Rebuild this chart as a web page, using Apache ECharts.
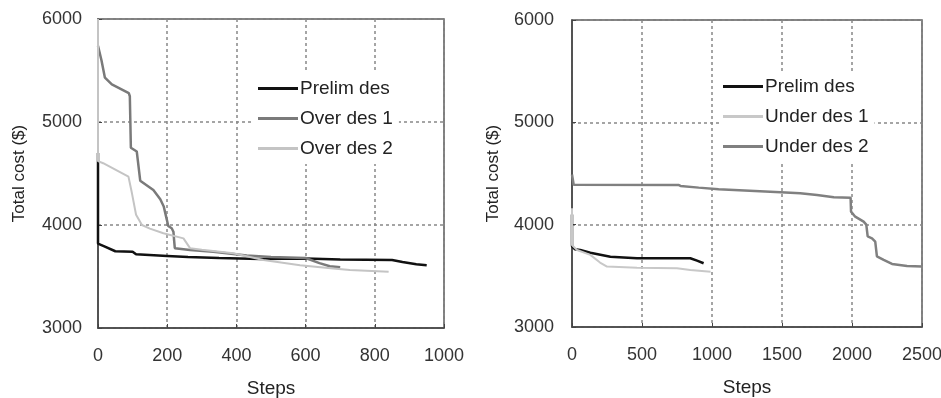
<!DOCTYPE html>
<html>
<head>
<meta charset="utf-8">
<script src="https://cdn.jsdelivr.net/npm/echarts@6/dist/echarts.min.js"></script>
<style>
html,body{margin:0;padding:0;background:#fff;}
#c{width:941px;height:398px;}
</style>
</head>
<body>
<div id="c"></div>
<script>
// ---- Left panel data: [steps, total cost] ----
var leftPrelim = [[0,4700],[0,3900],[0,3820],[20,3790],[50,3745],[100,3740],[110,3715],[200,3700],[260,3690],[350,3680],[470,3670],[600,3675],[700,3665],[850,3660],[880,3640],[920,3620],[950,3610]];
var leftOver1 = [[0,5740],[10,5600],[20,5430],[40,5365],[89,5280],[92,5250],[95,4750],[112,4714],[115,4630],[122,4430],[160,4340],[180,4250],[190,4180],[199,4050],[203,3990],[213,3968],[218,3935],[220,3850],[222,3775],[266,3757],[333,3740],[430,3705],[500,3690],[600,3680],[640,3630],[670,3600],[700,3590]];
var leftOver2 = [[0,6000],[0,4620],[15,4600],[88,4470],[98,4310],[110,4100],[127,4000],[150,3965],[189,3920],[247,3870],[266,3775],[300,3760],[391,3725],[478,3660],[584,3610],[680,3578],[728,3562],[840,3545]];
// ---- Right panel data ----
var rightPrelim = [[0,4100],[0,3790],[20,3760],[59,3753],[131,3726],[274,3687],[464,3672],[845,3672],[893,3648],[940,3623]];
var rightUnder1 = [[0,4160],[0,3800],[36,3753],[131,3705],[200,3630],[250,3590],[464,3580],[750,3573],[845,3557],[990,3540]];
var rightUnder2 = [[0,4490],[12,4390],[760,4388],[775,4378],[905,4362],[1047,4346],[1490,4317],[1630,4307],[1750,4290],[1870,4268],[1990,4264],[1993,4127],[2023,4078],[2083,4030],[2102,4000],[2112,3885],[2143,3867],[2166,3835],[2178,3690],[2226,3655],[2286,3616],[2393,3596],[2500,3590]];

var leftNames = ['Prelim des','Over des 1','Over des 2'];
var rightNames = ['Prelim des','Under des 1','Under des 2'];
var yName = 'Total cost ($)';
var xName = 'Steps';

var FONT = 'Liberation Sans, Arial, sans-serif';
var chart = echarts.init(document.getElementById('c'));
function plain(v){ return String(v); }

function xAx(gi, max, interval){
  return {
    type:'value', gridIndex:gi, min:0, max:max, interval:interval,
    name:xName, nameLocation:'middle', nameGap:51,
    nameTextStyle:{fontFamily:FONT,fontSize:19,color:'#222'},
    axisLine:{show:true,lineStyle:{color:'#444',width:1.5}},
    axisTick:{show:true,inside:true,length:4,lineStyle:{color:'#444'}},
    axisLabel:{fontFamily:FONT,fontSize:18,color:'#333',margin:19,formatter:plain},
    splitLine:{show:true,lineStyle:{color:'#888',type:[3,3],width:1.5}}
  };
}
function yAx(gi, margin){
  return {
    type:'value', gridIndex:gi, min:3000, max:6000, interval:1000,
    name:yName, nameLocation:'middle', nameGap:70, nameRotate:90,
    nameTextStyle:{fontFamily:FONT,fontSize:17,color:'#222'},
    axisLine:{show:true,lineStyle:{color:'#444',width:1.5}},
    axisTick:{show:true,inside:true,length:4,lineStyle:{color:'#444'}},
    axisLabel:{fontFamily:FONT,fontSize:18,color:'#333',margin:margin,formatter:plain},
    splitLine:{show:true,lineStyle:{color:'#888',type:[3,3],width:1.5}}
  };
}
function ser(name, data, xi, color, width){
  return {type:'line', name:name, data:data, xAxisIndex:xi, yAxisIndex:xi,
    showSymbol:false, symbol:'none', animation:false,
    lineStyle:{color:color,width:width}, itemStyle:{color:color}};
}
function leg(names, left, top){
  return {
    data:names, orient:'vertical', left:left, top:top,
    icon:'rect', itemWidth:40, itemHeight:3, itemGap:11,
    backgroundColor:'#fff', padding:[6,6,6,4],
    textStyle:{fontFamily:FONT,fontSize:19,color:'#222',padding:[0,0,0,-3]},
    selectedMode:false
  };
}

chart.setOption({
  animation:false,
  backgroundColor:'#fff',
  grid:[
    {left:98, top:19, width:346, height:309, outerBoundsMode:'none', containLabel:false, show:true, borderColor:'#555', borderWidth:1.5, backgroundColor:'transparent'},
    {left:572, top:20, width:350, height:307, outerBoundsMode:'none', containLabel:false, show:true, borderColor:'#555', borderWidth:1.5, backgroundColor:'transparent'}
  ],
  xAxis:[xAx(0,1000,200), xAx(1,2500,500)],
  yAxis:[yAx(0,16), yAx(1,18)],
  legend:[leg(leftNames,254,73), leg(rightNames,719,71)],
  series:[
    ser(leftNames[0], leftPrelim, 0, '#111', 2.5),
    ser(leftNames[1], leftOver1, 0, '#7a7a7a', 2.5),
    ser(leftNames[2], leftOver2, 0, '#c4c4c4', 2),
    ser(rightNames[0], rightPrelim, 1, '#111', 2.5),
    ser(rightNames[1], rightUnder1, 1, '#c8c8c8', 2),
    ser(rightNames[2], rightUnder2, 1, '#808080', 2.5)
  ]
});
</script>
</body>
</html>
